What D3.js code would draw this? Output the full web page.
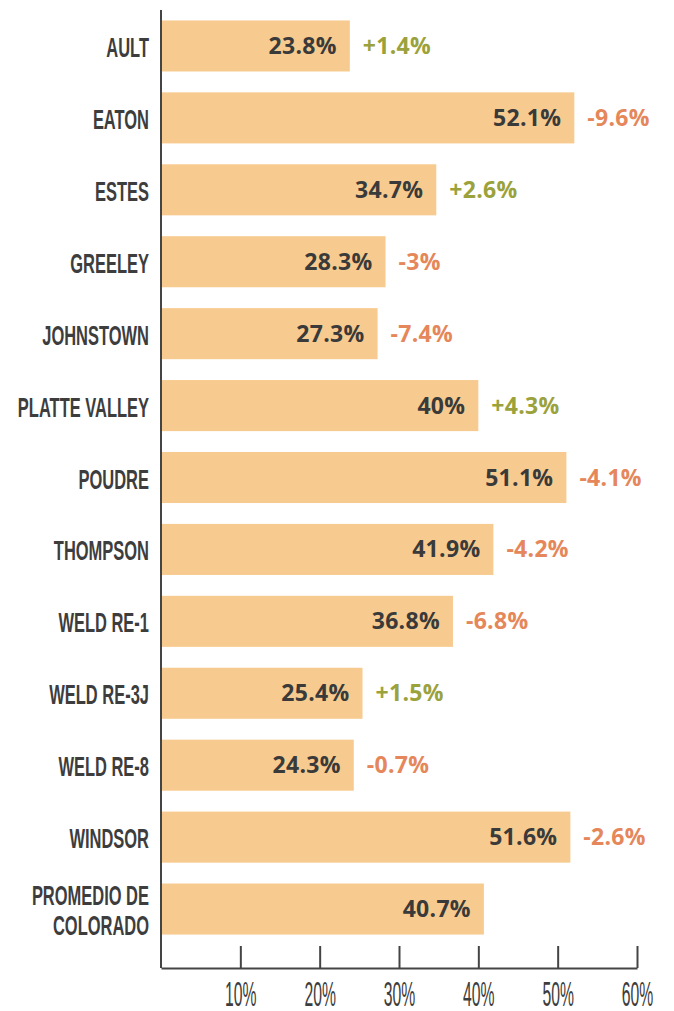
<!DOCTYPE html>
<html lang="es">
<head>
    <meta charset="UTF-8">
    <title>Tasa por distrito</title>
    <style>
        body {
            margin: 0;
            background: #FFFFFF;
        }
    </style>
</head>
<body>
<div id="chart"></div>
<script src="https://d3js.org/d3.v7.min.js"></script>
<script>
    // data
    const districts = ["AULT", "EATON", "ESTES", "GREELEY", "JOHNSTOWN", "PLATTE VALLEY", "POUDRE",
        "THOMPSON", "WELD RE-1", "WELD RE-3J", "WELD RE-8", "WINDSOR", "PROMEDIO DE\nCOLORADO"];
    const rates = [23.8, 52.1, 34.7, 28.3, 27.3, 40, 51.1, 41.9, 36.8, 25.4, 24.3, 51.6, 40.7];
    const changes = [1.4, -9.6, 2.6, -3, -7.4, 4.3, -4.1, -4.2, -6.8, 1.5, -0.7, -2.6, null];
    const tickValues = [10, 20, 30, 40, 50, 60];

    const width = 674, height = 1011;
    const axisY = 968;

    const svg = d3.select("#chart")
        .append("svg")
        .attr("width", width)
        .attr("height", height);

    const x = d3.scaleLinear()
        .domain([0, 60])
        .range([161, 637]);

    const y = d3.scaleBand()
        .domain(districts)
        .range([10, 945])
        .paddingInner(0.29)
        .paddingOuter(0.145);

    // no condensed gothic font here, so squeeze Liberation Sans horizontally
    const condensed = "'Liberation Sans', Arial, sans-serif";
    const valueFont = "'Open Sans', 'Noto Sans', sans-serif";

    // bars
    svg.append("g")
        .selectAll("rect")
        .data(rates)
        .join("rect")
        .attr("x", x(0) + 1)
        .attr("y", (d, i) => y(districts[i]))
        .attr("width", d => x(d) - x(0) - 1)
        .attr("height", y.bandwidth())
        .attr("fill", "#F7CB8F");

    // value inside the bar, right aligned
    svg.append("g")
        .selectAll("text")
        .data(rates)
        .join("text")
        .attr("x", d => x(d) - 13)
        .attr("y", (d, i) => y(districts[i]) + y.bandwidth() / 2 + 8)
        .attr("text-anchor", "end")
        .style("font-family", valueFont)
        .style("font-weight", 700)
        .style("font-size", "23px")
        .style("letter-spacing", "0.3px")
        .style("fill", "#3A3A3A")
        .text(d => d + "%");

    // change next to the bar
    svg.append("g")
        .selectAll("text")
        .data(changes)
        .join("text")
        .attr("x", (d, i) => x(rates[i]) + 13)
        .attr("y", (d, i) => y(districts[i]) + y.bandwidth() / 2 + 8)
        .style("font-family", valueFont)
        .style("font-weight", 700)
        .style("font-size", "23px")
        .style("letter-spacing", "0.3px")
        .style("fill", d => d > 0 ? "#9BA23C" : "#E5875A")
        .text(d => d === null ? "" : (d > 0 ? "+" : "") + d + "%");

    // district names, condensed
    const names = svg.append("g")
        .selectAll("g")
        .data(districts)
        .join("g")
        .attr("transform", d => `translate(149, ${y(d) + y.bandwidth() / 2}) scale(0.61, 1)`);

    names.each(function (d) {
        const lines = d.split("\n");
        const t = d3.select(this).append("text")
            .attr("text-anchor", "end")
            .style("font-family", condensed)
            .style("font-weight", 700)
            .style("font-size", "27px")
            .style("fill", "#3D3D3D");
        lines.forEach((l, k) => {
            t.append("tspan")
                .attr("x", 0)
                .attr("y", 11 + (k - (lines.length - 1) / 2) * 30)
                .text(l);
        });
    });

    // left axis line
    svg.append("line")
        .attr("x1", x(0))
        .attr("x2", x(0))
        .attr("y1", y.range()[0])
        .attr("y2", axisY)
        .attr("stroke", "#444")
        .attr("stroke-width", 2);

    // bottom axis, ticks pointing up
    const xAxis = svg.append("g")
        .attr("transform", `translate(0, ${axisY})`)
        .call(d3.axisBottom(x)
            .tickValues(tickValues)
            .tickSizeInner(-22)
            .tickSizeOuter(0)
            .tickFormat(d => d + "%"));

    xAxis.select(".domain")
        .attr("stroke", "#444")
        .attr("stroke-width", 2);
    xAxis.selectAll(".tick line")
        .attr("stroke", "#444")
        .attr("stroke-width", 2);
    xAxis.selectAll(".tick text")
        .attr("y", 0)
        .attr("dy", 0)
        .attr("transform", "translate(0, 38) scale(0.45, 1)")
        .style("font-family", condensed)
        .style("font-size", "35px")
        .style("fill", "#3D3D3D");
</script>
</body>
</html>
